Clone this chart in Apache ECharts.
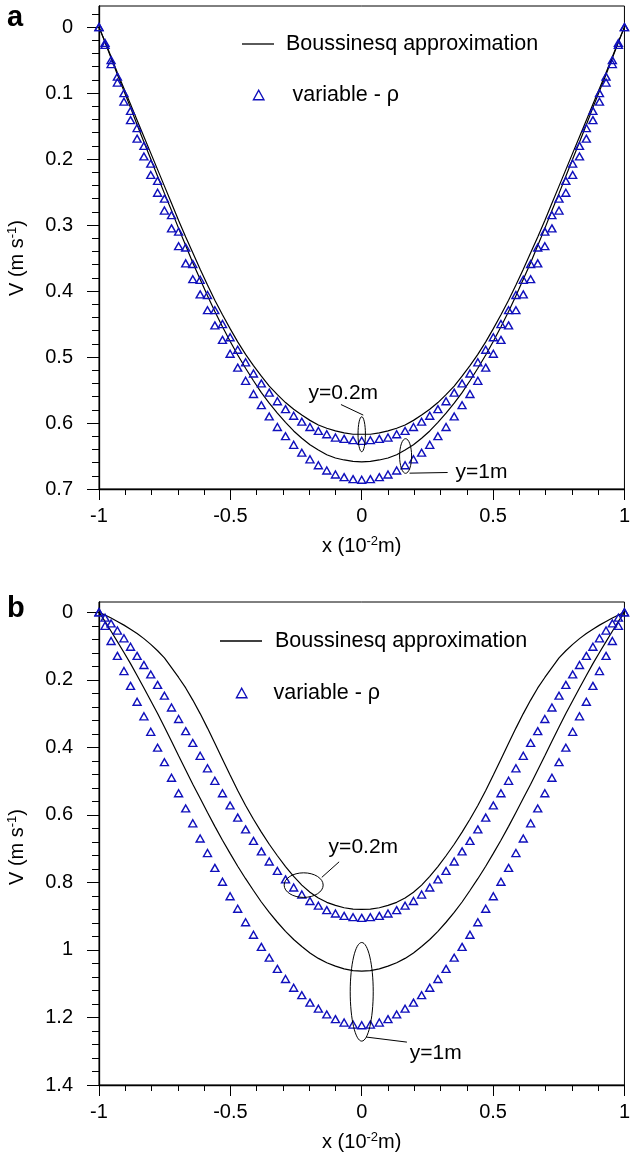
<!DOCTYPE html>
<html><head><meta charset="utf-8">
<script src="https://cdn.jsdelivr.net/npm/echarts@6/dist/echarts.min.js"></script>
<style>html,body{margin:0;padding:0;background:#fff}#c{width:633px;height:1157px}</style>
</head><body><div id="c"></div>
<script>
// ---- data ----
const xGrid = [-1,-0.977,-0.954,-0.930,-0.905,-0.880,-0.855,-0.829,-0.803,-0.777,-0.751,-0.724,-0.697,-0.670,-0.643,-0.615,-0.587,-0.559,-0.530,-0.501,-0.472,-0.442,-0.412,-0.382,-0.352,-0.321,-0.290,-0.259,-0.228,-0.197,-0.165,-0.133,-0.100,-0.067,-0.033,0,
0.033,0.067,0.100,0.133,0.165,0.197,0.228,0.259,0.290,0.321,0.352,0.382,0.412,0.442,0.472,0.501,0.530,0.559,0.587,0.615,0.643,0.670,0.697,0.724,0.751,0.777,0.803,0.829,0.855,0.880,0.905,0.930,0.954,0.977,1];

// panel a
const aVar02 = [0,0.024,0.050,0.075,0.100,0.127,0.153,0.180,0.207,0.233,0.260,0.285,0.310,0.334,0.359,0.383,0.406,0.429,0.450,0.470,0.489,0.508,0.525,0.540,0.554,0.567,0.579,0.589,0.598,0.606,0.612,0.617,0.622,0.624,0.626,0.627,
0.626,0.624,0.622,0.617,0.612,0.606,0.598,0.589,0.579,0.567,0.554,0.540,0.525,0.508,0.489,0.470,0.450,0.429,0.406,0.383,0.359,0.334,0.310,0.285,0.260,0.233,0.207,0.180,0.153,0.127,0.100,0.075,0.050,0.024,0];
const aVar1 = [0,0.027,0.056,0.084,0.113,0.141,0.169,0.196,0.224,0.251,0.278,0.305,0.332,0.358,0.382,0.405,0.429,0.452,0.474,0.495,0.516,0.536,0.556,0.573,0.590,0.606,0.620,0.633,0.645,0.655,0.664,0.672,0.678,0.682,0.685,0.686,
0.685,0.682,0.678,0.672,0.664,0.655,0.645,0.633,0.620,0.606,0.590,0.573,0.556,0.536,0.516,0.495,0.474,0.452,0.429,0.405,0.382,0.358,0.332,0.305,0.278,0.251,0.224,0.196,0.169,0.141,0.113,0.084,0.056,0.027,0];
const aB02 = [0,0.022,0.045,0.069,0.093,0.117,0.141,0.166,0.191,0.216,0.241,0.267,0.293,0.318,0.342,0.367,0.391,0.414,0.436,0.457,0.477,0.496,0.513,0.529,0.544,0.557,0.569,0.579,0.588,0.596,0.603,0.608,0.612,0.615,0.617,0.617,
0.617,0.615,0.612,0.608,0.603,0.596,0.588,0.579,0.569,0.557,0.544,0.529,0.513,0.496,0.477,0.457,0.436,0.414,0.391,0.367,0.342,0.318,0.293,0.267,0.241,0.216,0.191,0.166,0.141,0.117,0.093,0.069,0.045,0.022,0];
const aB1 = [0,0.023,0.047,0.072,0.097,0.122,0.148,0.174,0.200,0.226,0.252,0.278,0.305,0.331,0.357,0.382,0.407,0.431,0.454,0.476,0.497,0.517,0.536,0.554,0.570,0.585,0.599,0.612,0.623,0.633,0.641,0.648,0.653,0.656,0.658,0.659,
0.658,0.656,0.653,0.648,0.641,0.633,0.623,0.612,0.599,0.585,0.570,0.554,0.536,0.517,0.497,0.476,0.454,0.431,0.407,0.382,0.357,0.331,0.305,0.278,0.252,0.226,0.200,0.174,0.148,0.122,0.097,0.072,0.047,0.023,0];

// panel b
const bVar02 = [0,0.016,0.033,0.054,0.077,0.102,0.129,0.156,0.184,0.215,0.247,0.282,0.316,0.352,0.387,0.425,0.462,0.499,0.536,0.572,0.608,0.643,0.677,0.708,0.738,0.766,0.791,0.815,0.836,0.855,0.869,0.882,0.892,0.899,0.903,0.905,
0.903,0.899,0.892,0.882,0.869,0.855,0.836,0.815,0.791,0.766,0.738,0.708,0.677,0.643,0.608,0.572,0.536,0.499,0.462,0.425,0.387,0.352,0.316,0.282,0.247,0.215,0.184,0.156,0.129,0.102,0.077,0.054,0.033,0.016,0];
const bVar1 = [0,0.040,0.085,0.129,0.174,0.218,0.265,0.308,0.354,0.401,0.444,0.490,0.536,0.581,0.625,0.670,0.713,0.757,0.798,0.841,0.878,0.918,0.955,0.991,1.023,1.056,1.086,1.112,1.134,1.156,1.174,1.191,1.205,1.215,1.221,1.223,
1.221,1.215,1.205,1.191,1.174,1.156,1.134,1.112,1.086,1.056,1.023,0.991,0.955,0.918,0.878,0.841,0.798,0.757,0.713,0.670,0.625,0.581,0.536,0.490,0.444,0.401,0.354,0.308,0.265,0.218,0.174,0.129,0.085,0.040,0];
const bB02 = [0,0.008,0.017,0.027,0.038,0.050,0.063,0.078,0.095,0.114,0.135,0.164,0.193,0.224,0.260,0.300,0.343,0.388,0.435,0.482,0.528,0.572,0.613,0.651,0.687,0.721,0.753,0.782,0.808,0.829,0.846,0.859,0.868,0.875,0.879,0.880,
0.879,0.875,0.868,0.859,0.846,0.829,0.808,0.782,0.753,0.721,0.687,0.651,0.613,0.572,0.528,0.482,0.435,0.388,0.343,0.300,0.260,0.224,0.193,0.164,0.135,0.114,0.095,0.078,0.063,0.050,0.038,0.027,0.017,0.008,0];
const bB1 = [0,0.027,0.056,0.087,0.119,0.152,0.187,0.224,0.262,0.300,0.340,0.382,0.425,0.467,0.509,0.551,0.593,0.634,0.675,0.714,0.752,0.789,0.824,0.858,0.889,0.918,0.945,0.969,0.990,1.009,1.025,1.038,1.048,1.056,1.061,1.063,
1.061,1.056,1.048,1.038,1.025,1.009,0.990,0.969,0.945,0.918,0.889,0.858,0.824,0.789,0.752,0.714,0.675,0.634,0.593,0.551,0.509,0.467,0.425,0.382,0.340,0.300,0.262,0.224,0.187,0.152,0.119,0.087,0.056,0.027,0];

// tick labels
const yTicksA = [0,0.1,0.2,0.3,0.4,0.5,0.6,0.7];
const yTicksB = [0,0.2,0.4,0.6,0.8,1,1.2,1.4];
const LINE_NAME = 'Boussinesq approximation';
const TRI_NAME = 'variable - ρ';

// annotations (data coordinates)
const annotEllipses = [
  {p:0, x:0, v:0.617, rx:3.7, ry:17.5},
  {p:0, x:0.167, v:0.650, rx:6, ry:17.3},
  {p:1, x:-0.221, v:0.808, rx:19.5, ry:12.3},
  {p:1, x:0, v:1.124, rx:11.5, ry:49.3}
];
const annotLeaders = [
  {p:0, a:[-0.079,0.572], b:[0.006,0.588]},
  {p:0, a:[0.182,0.676], b:[0.327,0.675]},
  {p:1, a:[-0.152,0.785], b:[-0.086,0.739]},
  {p:1, a:[0.017,1.258], b:[0.172,1.273]}
];
const annotLabels = [
  {p:0, text:'y=0.2m', x:-0.07, v:0.555, align:'center'},
  {p:0, text:'y=1m', x:0.357, v:0.675, align:'left'},
  {p:1, text:'y=0.2m', x:-0.126, v:0.695, align:'left'},
  {p:1, text:'y=1m', x:0.183, v:1.306, align:'left'}
];

// ---- chart ----
const FONT = "'Liberation Sans', Arial, Helvetica, sans-serif";
const BLUE = '#1010bc';
function pairs(vals){ return xGrid.map((x,i)=>[x, vals[i]]); }
function minorTicks(step, kFrom, kTo){ const r=[]; for(let k=kFrom;k<=kTo;k++){ if(k%5!==0) r.push(+(k*step).toFixed(3)); } return r; }

const gridA = {left:99, top:6, width:529, height:483};
const gridB = {left:99, top:602, width:529, height:483};

function xAxisDef(gi){
  return {
    type:'value', gridIndex:gi, min:-1, max:1, interval:0.5, position:'bottom',
    axisLine:{show:true, onZero:false, lineStyle:{color:'#000', width:1.3}},
    axisTick:{show:true, inside:false, length:11, lineStyle:{color:'#000', width:1}},
    minorTick:{show:true, splitNumber:5, length:6, lineStyle:{color:'#000', width:1}},
    splitLine:{show:false}, minorSplitLine:{show:false},
    axisLabel:{color:'#000', fontFamily:FONT, fontSize:20, margin:17},
    name:'x (10{sup|-2}m)', nameLocation:'middle', nameGap:46,
    nameTextStyle:{color:'#000', fontFamily:FONT, fontSize:20,
      rich:{sup:{fontSize:13, fontFamily:FONT, color:'#000', verticalAlign:'top', padding:[0,0,10,0]}}}
  };
}
function yMajor(gi, min, max, ticks){
  return {
    type:'value', gridIndex:gi, inverse:true, min:min, max:max, position:'left',
    axisLine:{show:true, onZero:false, lineStyle:{color:'#000', width:1.3}},
    axisTick:{show:true, inside:false, length:12, customValues:ticks, lineStyle:{color:'#000', width:1}},
    axisLabel:{show:true, customValues:ticks, color:'#000', fontFamily:FONT, fontSize:20, margin:26},
    splitLine:{show:false}
  };
}
function yMinor(gi, min, max, ticks){
  return {
    type:'value', gridIndex:gi, inverse:true, min:min, max:max, position:'left', offset:0,
    axisLine:{show:false, onZero:false},
    axisTick:{show:true, inside:false, length:7, customValues:ticks, lineStyle:{color:'#000', width:1}},
    axisLabel:{show:false},
    splitLine:{show:false}
  };
}
function lineSeries(xi, yi, vals){
  return {name:LINE_NAME, type:'line', xAxisIndex:xi, yAxisIndex:yi, data:pairs(vals),
    symbol:'none', showSymbol:false, lineStyle:{color:'#000', width:1.2}, itemStyle:{color:'#000'}, z:2, silent:true};
}
function triSeries(xi, yi, vals){
  return {name:TRI_NAME, type:'scatter', xAxisIndex:xi, yAxisIndex:yi, data:pairs(vals),
    symbol:'triangle', symbolSize:[8,7],
    itemStyle:{color:'rgba(0,0,0,0)', borderColor:BLUE, borderWidth:1.4, opacity:1}, z:3, silent:true};
}

const legendText = (pad)=>({color:'#000', fontFamily:FONT, fontSize:21.5, padding:[0,0,0,pad]});
const lineLegend = (left, top, w, pad)=>({
  data:[{name:LINE_NAME, icon:'rect', itemStyle:{color:'#000', borderWidth:0}}],
  left:left, top:top, padding:0, orient:'vertical', itemWidth:w, itemHeight:1.3, selectedMode:false, textStyle:legendText(pad)
});
const triLegend = (left, top, pad)=>({
  data:[TRI_NAME], left:left, top:top, padding:0, orient:'vertical', itemWidth:10.5, itemHeight:9.5, selectedMode:false,
  itemStyle:{color:'rgba(0,0,0,0)', borderColor:BLUE, borderWidth:1.4}, textStyle:legendText(pad)
});

const option = {
  animation:false,
  backgroundColor:'#fff',
  grid:[
    Object.assign({show:true, borderColor:'#000', borderWidth:1, backgroundColor:'rgba(0,0,0,0)'}, gridA),
    Object.assign({show:true, borderColor:'#000', borderWidth:1, backgroundColor:'rgba(0,0,0,0)'}, gridB)
  ],
  xAxis:[xAxisDef(0), xAxisDef(1)],
  yAxis:[
    yMajor(0, -0.032, 0.7, yTicksA),
    yMinor(0, -0.032, 0.7, minorTicks(0.02, -1, 34)),
    yMajor(1, -0.0305, 1.4, yTicksB),
    yMinor(1, -0.0305, 1.4, minorTicks(0.04, 1, 34))
  ],
  legend:[
    lineLegend(242, 33, 32, 7),
    triLegend(252.75, 84, 23.5),
    lineLegend(220, 630, 42, 8),
    triLegend(235.75, 682, 21.5)
  ],
  series:[
    lineSeries(0,0,aB02), lineSeries(0,0,aB1), triSeries(0,0,aVar02), triSeries(0,0,aVar1),
    lineSeries(1,2,bB02), lineSeries(1,2,bB1), triSeries(1,2,bVar02), triSeries(1,2,bVar1)
  ]
};

const chart = echarts.init(document.getElementById('c'), null, {renderer:'canvas'});
chart.setOption(option);

function toPx(p, x, v){ return chart.convertToPixel({xAxisIndex:p, yAxisIndex:p*2}, [x, v]); }
const g = [];
annotEllipses.forEach(e=>{
  const c = toPx(e.p, e.x, e.v);
  g.push({type:'ellipse', silent:true, shape:{cx:c[0], cy:c[1], rx:e.rx, ry:e.ry}, style:{fill:'none', stroke:'#000', lineWidth:1}, z:10});
});
annotLeaders.forEach(l=>{
  const a = toPx(l.p, l.a[0], l.a[1]), b = toPx(l.p, l.b[0], l.b[1]);
  g.push({type:'line', silent:true, shape:{x1:a[0], y1:a[1], x2:b[0], y2:b[1]}, style:{stroke:'#000', lineWidth:1}, z:10});
});
annotLabels.forEach(t=>{
  const c = toPx(t.p, t.x, t.v);
  g.push({type:'text', silent:true, x:c[0], y:c[1], style:{text:t.text, fill:'#000', font:'21px '+FONT, align:t.align, verticalAlign:'middle'}, z:10});
});
// axis titles and panel letters
const yTitleRich = {sup:{fontSize:13, fontFamily:FONT, fill:'#000', verticalAlign:'top', padding:[0,0,10,0]}};
g.push({type:'text', silent:true, x:17, y:258, rotation:Math.PI/2,
  style:{text:'V (m s{sup|-1})', rich:yTitleRich, fill:'#000', font:'20px '+FONT, align:'center', verticalAlign:'middle'}});
g.push({type:'text', silent:true, x:17, y:847, rotation:Math.PI/2,
  style:{text:'V (m s{sup|-1})', rich:yTitleRich, fill:'#000', font:'20px '+FONT, align:'center', verticalAlign:'middle'}});
g.push({type:'text', silent:true, x:7, y:18, style:{text:'a', fill:'#000', font:'bold 29px '+FONT, align:'left', verticalAlign:'middle'}});
g.push({type:'text', silent:true, x:7, y:609, style:{text:'b', fill:'#000', font:'bold 29px '+FONT, align:'left', verticalAlign:'middle'}});
chart.setOption({graphic:g});
</script>
</body></html>
